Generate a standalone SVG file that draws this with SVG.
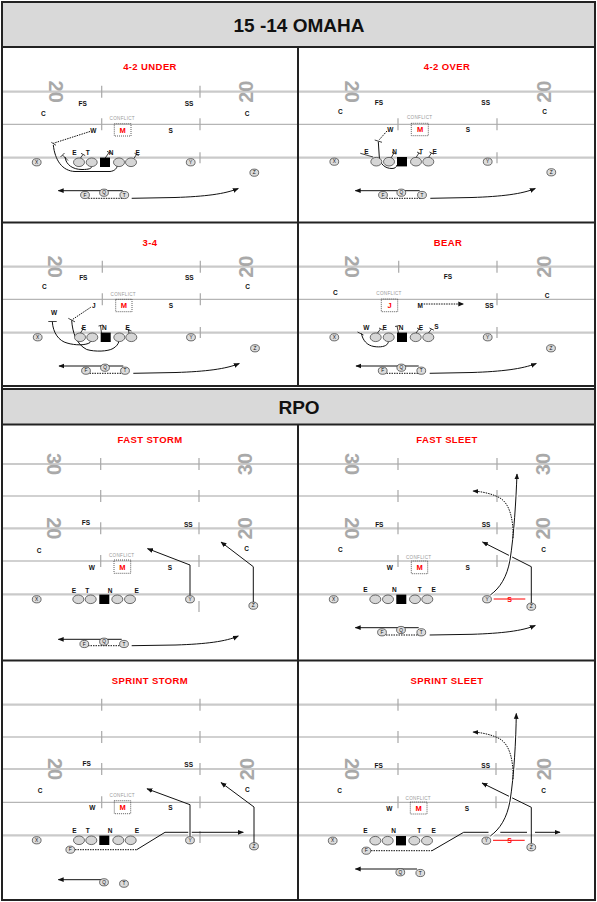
<svg xmlns="http://www.w3.org/2000/svg" width="597" height="902" viewBox="0 0 597 902">
<defs>
<style>
text{font-family:"Liberation Sans",Arial,sans-serif}
.h{font-size:19px;font-weight:bold;fill:#111;text-anchor:middle;dominant-baseline:central}
.tt{font-size:9.5px;font-weight:bold;fill:#f00;text-anchor:middle;dominant-baseline:central;letter-spacing:.4px}
.l{font-size:6.5px;font-weight:bold;fill:#111;text-anchor:middle;dominant-baseline:central}
.cf{font-size:4.6px;fill:#9a9a9a;text-anchor:middle;dominant-baseline:central;letter-spacing:.3px}
.m{font-size:7.5px;font-weight:bold;fill:#f00;text-anchor:middle;dominant-baseline:central}
.c{font-size:4.8px;fill:#111;text-anchor:middle;dominant-baseline:central}
.yd{font-size:20px;font-weight:bold;fill:#a9a9a9;text-anchor:middle;dominant-baseline:central}
.yl{stroke:#cacaca;stroke-width:2.2;fill:none}
.yl2{stroke:#a3a3a3;stroke-width:1;fill:none}
.hs{stroke:#a8a8a8;stroke-width:1.2;fill:none}
.fr{stroke:#222;stroke-width:2;fill:none}
.hd{fill:#d9d9d9;stroke:#222;stroke-width:2}
.ol{fill:#d6d6d6;stroke:#333;stroke-width:.7}
.pc ellipse{fill:#dcdcdc;stroke:#333;stroke-width:.7}
.sq{fill:#000}
.bx{fill:none;stroke:#333;stroke-width:.8;stroke-dasharray:1 1}
.rt{fill:none;stroke:#111;stroke-width:1}
.dt{stroke-dasharray:1.5 1}
.ar{marker-end:url(#ah)}
.bk{fill:none;stroke:#111;stroke-width:.8}
.halo{fill:none;stroke:#fff;stroke-width:3.5}
.rd{stroke:#f00;stroke-width:1;fill:none}
.rs{font-size:7px;font-weight:bold;fill:#f00;text-anchor:middle;dominant-baseline:central}
</style>
<marker id="ah" viewBox="0 0 10 10" refX="9" refY="5" markerWidth="6" markerHeight="6" markerUnits="userSpaceOnUse" orient="auto"><path d="M0,1 L10,5 L0,9 z" fill="#111"/></marker>
</defs>
<rect width="597" height="902" fill="#fff"/>

<!-- headers and frame -->
<g id="frame">
<rect class="hd" x="2" y="2" width="593" height="45"/>
<text class="h" x="299" y="25">15 -14 OMAHA</text>
<rect class="hd" x="2" y="389" width="593" height="35.5"/>
<text class="h" x="299" y="407">RPO</text>
<rect class="fr" x="2" y="2" width="593" height="898"/>
<path class="fr" d="M298,47V386 M2,222.5H595 M2,386H595 M298,424.5V900 M2,660.5H595"/>
</g>

<!-- ===== PANEL 1: 4-2 UNDER ===== -->
<g id="panel-42under">
<text class="tt" x="150" y="66.7">4-2 UNDER</text>
<g class="field">
<path class="yl" d="M3,91.7H297 M3,157.7H297"/><path class="yl2" d="M3,124.3H297"/>
<path class="hs" d="M101.7,85.7v12 M200,85.7v12 M101.7,118.3v12 M200,118.3v12 M200,152.3v11"/>
<text class="yd" transform="translate(55.8,91.7) rotate(90)">20</text>
<text class="yd" transform="translate(245.8,91.7) rotate(-90)">20</text>
</g>
<g id="p1-def">
<text class="l" x="82.7" y="103.3">FS</text><text class="l" x="189" y="103.3">SS</text>
<text class="l" x="43.3" y="113.3">C</text><text class="l" x="247" y="113.3">C</text>
<text class="cf" x="122.3" y="118.3">CONFLICT</text>
<rect class="bx" x="114.3" y="123.7" width="16.7" height="12.3"/><text class="m" x="122.6" y="130">M</text>
<text class="l" x="93.3" y="130">W</text><text class="l" x="170.7" y="130">S</text>
<text class="l" x="74.3" y="152.5">E</text><text class="l" x="87.7" y="152.5">T</text><text class="l" x="111" y="152.5">N</text><text class="l" x="137.7" y="152.5">E</text>
</g>
<g id="p1-routes">
<path class="rt dt" d="M90,131.5 L53.3,143.3"/><path class="bk" d="M51.3,142.3 L56,145.3"/>
<path class="rt" d="M53.3,145 C55,160 62,171 75,171.5 L110,171.5 C115,171 117,168 117.3,165.5"/>
<path class="bk" d="M68,160.5 L62.5,155 M60.5,157 L64.5,153"/>
<path class="rt" d="M65,157 C66,165 73,169.5 82,169.5 C89,169.5 91.5,168.5 91.7,166.5"/>
<path class="bk" d="M80.5,158 L83,154.5 M81,153.3 L85.2,155.6 M105,158.3 L109,152.5 M107,151.3 L111.2,153.6 M134,158.3 L136.5,154.5 M134.5,153.3 L138.7,155.6"/>
<path class="rt ar" d="M122.7,190.7 H58.3"/>
<path class="rt dt" d="M88.3,198.3 H123.3"/>
<path class="rt ar" d="M131.7,198.3 L175,197.5 C205,196.5 225,194 238.3,188.5"/>
</g>
<g id="p1-off">
<ellipse class="ol" cx="79" cy="162.3" rx="5.5" ry="4.3"/><ellipse class="ol" cx="91.7" cy="162.3" rx="5.5" ry="4.3"/>
<rect class="sq" x="100" y="157.6" width="10" height="9.4"/>
<ellipse class="ol" cx="119" cy="162.3" rx="5.5" ry="4.3"/><ellipse class="ol" cx="131" cy="162.3" rx="5.5" ry="4.3"/>
<g id="p1-X" class="pc"><ellipse cx="36.7" cy="162.3" rx="4.4" ry="3.6"/><text class="c" x="36.7" y="162.5">X</text></g>
<g id="p1-Y" class="pc"><ellipse cx="190.7" cy="162.3" rx="4.4" ry="3.6"/><text class="c" x="190.7" y="162.5">Y</text></g>
<g id="p1-Z" class="pc"><ellipse cx="254.3" cy="172.7" rx="4.4" ry="3.6"/><text class="c" x="254.3" y="172.9">Z</text></g>
<g id="p1-F" class="pc"><ellipse cx="85" cy="195" rx="4.4" ry="3.6"/><text class="c" x="85" y="195.2">F</text></g>
<g id="p1-Q" class="pc"><ellipse cx="104" cy="192.7" rx="4.4" ry="3.6"/><text class="c" x="104" y="192.9">Q</text></g>
<g id="p1-T" class="pc"><ellipse cx="124.3" cy="195" rx="4.4" ry="3.6"/><text class="c" x="124.3" y="195.2">T</text></g>
</g>
</g>

<!-- ===== PANEL 2: 4-2 OVER ===== -->
<g id="panel-42over">
<text class="tt" x="447" y="66.7">4-2 OVER</text>
<g class="field">
<path class="yl" d="M299,91.7H594 M299,157.7H594"/><path class="yl2" d="M299,124.3H594"/>
<path class="hs" d="M398,118.3v12 M497,118.3v12 M497,152.3v11"/>
<text class="yd" transform="translate(352,91.7) rotate(90)">20</text>
<text class="yd" transform="translate(543.7,91.7) rotate(-90)">20</text>
</g>
<g id="p2-def">
<text class="l" x="379" y="102.3">FS</text><text class="l" x="485.7" y="102.3">SS</text>
<text class="l" x="340.3" y="111.7">C</text><text class="l" x="544.7" y="111.7">C</text>
<text class="cf" x="419.7" y="117.7">CONFLICT</text>
<rect class="bx" x="411.3" y="123.3" width="17" height="12.4"/><text class="m" x="420" y="129.7">M</text>
<text class="l" x="390.3" y="129.3">W</text><text class="l" x="468" y="129.3">S</text>
<text class="l" x="366.3" y="151.7">E</text><text class="l" x="394.7" y="151.7">N</text><text class="l" x="421" y="151.7">T</text><text class="l" x="434.7" y="151.7">E</text>
</g>
<g id="p2-routes">
<path class="rt dt" d="M387,131 L379,140"/><path class="bk" d="M374.7,140 L382,142.3"/>
<path class="rt" d="M378.3,141.7 L379.3,157 C380,164 385,168.5 392,168.5 C395,168.5 396.5,167 397,165"/>
<path class="bk" d="M360.3,153.3 L373,157 M391,158 L394,153 M392,152 L396.2,154.2 M416,157.5 L419,153 M417,152 L421.2,154.2 M428.5,157.5 L431.5,153 M429.5,152 L433.7,154.2"/>
<path class="rt ar" d="M419.7,190.7 H355.3"/>
<path class="rt dt" d="M386.5,198.3 H421"/>
<path class="rt ar" d="M430.3,198.3 L472,197.5 C502,196.5 522,194 535.3,188.5"/>
</g>
<g id="p2-off">
<ellipse class="ol" cx="376.3" cy="161.7" rx="5.5" ry="4.3"/><ellipse class="ol" cx="389" cy="161.7" rx="5.5" ry="4.3"/>
<rect class="sq" x="397" y="157" width="10" height="9.4"/>
<ellipse class="ol" cx="416" cy="161.7" rx="5.5" ry="4.3"/><ellipse class="ol" cx="428.3" cy="161.7" rx="5.5" ry="4.3"/>
<g id="p2-X" class="pc"><ellipse cx="334.3" cy="161.7" rx="4.4" ry="3.6"/><text class="c" x="334.3" y="161.9">X</text></g>
<g id="p2-Y" class="pc"><ellipse cx="487.7" cy="161.7" rx="4.4" ry="3.6"/><text class="c" x="487.7" y="161.9">Y</text></g>
<g id="p2-Z" class="pc"><ellipse cx="551.3" cy="172.3" rx="4.4" ry="3.6"/><text class="c" x="551.3" y="172.5">Z</text></g>
<g id="p2-F" class="pc"><ellipse cx="383" cy="195" rx="4.4" ry="3.6"/><text class="c" x="383" y="195.2">F</text></g>
<g id="p2-Q" class="pc"><ellipse cx="401.3" cy="192.7" rx="4.4" ry="3.6"/><text class="c" x="401.3" y="192.9">Q</text></g>
<g id="p2-T" class="pc"><ellipse cx="422" cy="195" rx="4.4" ry="3.6"/><text class="c" x="422" y="195.2">T</text></g>
</g>
</g>

<!-- ===== PANEL 3: 3-4 ===== -->
<g id="panel-34">
<text class="tt" x="150" y="242.7">3-4</text>
<g class="field">
<path class="yl" d="M3,266.7H297 M3,332.7H297"/><path class="yl2" d="M3,299.3H297"/>
<path class="hs" d="M102.3,260.7v12 M200.3,260.7v12 M102.3,293.3v12 M200.3,293.3v12 M200.3,327v11"/>
<text class="yd" transform="translate(55,266.7) rotate(90)">20</text>
<text class="yd" transform="translate(246,266.7) rotate(-90)">20</text>
</g>
<g id="p3-def">
<text class="l" x="83.3" y="277.3">FS</text><text class="l" x="189.3" y="277.3">SS</text>
<text class="l" x="44.3" y="286.7">C</text><text class="l" x="247.7" y="286.7">C</text>
<text class="cf" x="123.3" y="294">CONFLICT</text>
<rect class="bx" x="115.7" y="299.3" width="16.3" height="12.4"/><text class="m" x="123.8" y="305.7">M</text>
<text class="l" x="93.7" y="305">J</text><text class="l" x="171" y="305">S</text>
<text class="l" x="54" y="312.7">W</text>
<text class="l" x="84" y="327.5">E</text><text class="l" x="104.3" y="327.3">N</text><text class="l" x="127.7" y="327.5">E</text>
</g>
<g id="p3-routes">
<path class="bk" d="M48.3,321.5 H56.7"/>
<path class="rt" d="M52.3,321.7 C53,333 59,341 67,343 C75,345.5 86,345.5 90,342.5 C91.3,341.3 91.8,340 92,339"/>
<path class="rt dt" d="M90.7,307.3 L71.7,320"/><path class="bk" d="M68.3,318.3 L75,321.9"/>
<path class="rt" d="M71.7,320.5 C72.5,332 76,344 86.7,349.5 C95,352 108,351.5 113,348.5 C116.5,346.5 118.3,344 118.8,341.5"/>
<path class="bk" d="M80.5,333 L83,329 M81,328 L85.4,330.2 M101.5,333 L100.5,325.5 M98.5,326 L103,325 M129,333.5 L128.5,330 M125.5,329 L131.5,331"/>
<path class="rt ar" d="M123.3,366 H59"/>
<path class="rt dt" d="M89.5,373.3 H124"/>
<path class="rt ar" d="M133.3,373.3 L176,372.5 C206,371.5 226,369 239.3,363.5"/>
</g>
<g id="p3-off">
<ellipse class="ol" cx="80" cy="337.3" rx="5.5" ry="4.3"/><ellipse class="ol" cx="92.3" cy="337.3" rx="5.5" ry="4.3"/>
<rect class="sq" x="100.7" y="332.6" width="10" height="9.4"/>
<ellipse class="ol" cx="119.3" cy="337.3" rx="5.5" ry="4.3"/><ellipse class="ol" cx="131.3" cy="337.3" rx="5.5" ry="4.3"/>
<g id="p3-X" class="pc"><ellipse cx="37.7" cy="337.3" rx="4.4" ry="3.6"/><text class="c" x="37.7" y="337.5">X</text></g>
<g id="p3-Y" class="pc"><ellipse cx="191" cy="337.3" rx="4.4" ry="3.6"/><text class="c" x="191" y="337.5">Y</text></g>
<g id="p3-Z" class="pc"><ellipse cx="255" cy="348.3" rx="4.4" ry="3.6"/><text class="c" x="255" y="348.5">Z</text></g>
<g id="p3-F" class="pc"><ellipse cx="86" cy="370.7" rx="4.4" ry="3.6"/><text class="c" x="86" y="370.9">F</text></g>
<g id="p3-Q" class="pc"><ellipse cx="105" cy="367.7" rx="4.4" ry="3.6"/><text class="c" x="105" y="367.9">Q</text></g>
<g id="p3-T" class="pc"><ellipse cx="125" cy="370.7" rx="4.4" ry="3.6"/><text class="c" x="125" y="370.9">T</text></g>
</g>
</g>

<!-- ===== PANEL 4: BEAR ===== -->
<g id="panel-bear">
<text class="tt" x="448" y="242.7">BEAR</text>
<g class="field">
<path class="yl" d="M299,266.7H594 M299,332.7H594"/><path class="yl2" d="M299,299.3H594"/>
<path class="hs" d="M398.7,260.7v12 M497,260.7v12 M497,293.3v12 M497,327v11"/>
<text class="yd" transform="translate(352,266.7) rotate(90)">20</text>
<text class="yd" transform="translate(543.7,266.7) rotate(-90)">20</text>
</g>
<g id="p4-def">
<text class="l" x="448" y="276.7">FS</text>
<text class="l" x="335.3" y="292.7">C</text><text class="l" x="547" y="295.7">C</text>
<text class="cf" x="389" y="293.3">CONFLICT</text>
<rect class="bx" x="381.3" y="299" width="16.4" height="12.7"/><text class="m" x="389.5" y="305.3">J</text>
<text class="l" x="420.3" y="305">M</text><text class="l" x="489.3" y="305">SS</text>
<text class="l" x="366.3" y="327.5">W</text><text class="l" x="384.7" y="327.5">E</text><text class="l" x="401" y="327.5">N</text><text class="l" x="421" y="327.5">E</text><text class="l" x="436.3" y="326.7">S</text>
</g>
<g id="p4-routes">
<path class="rt dt ar" d="M423.7,304 H463.7"/>
<path class="bk" d="M357.5,332 L363.5,335"/>
<path class="rt" d="M361.5,333.5 C362.5,340 367,345.5 374,346.5 C380,347.5 386,346.5 387.5,343.8 C388.2,342.6 388.5,342 388.6,341.5"/>
<path class="bk" d="M377.5,333 L380.5,329 M379,328 L383.4,330.2 M398.5,333 L397,326 M395,326.5 L399.5,325.5 M416,333 L419,329 M417,328 L421.4,330.2 M428.5,333 L431.5,329 M429.5,328 L433.9,330.2"/>
<path class="rt ar" d="M418.7,366 H356"/>
<path class="rt dt" d="M386.5,373.3 H420"/>
<path class="rt ar" d="M429.7,373.3 L472,372.5 C502,371.5 522,369 536.3,363.5"/>
</g>
<g id="p4-off">
<ellipse class="ol" cx="375.7" cy="337.3" rx="5.5" ry="4.3"/><ellipse class="ol" cx="388.7" cy="337.3" rx="5.5" ry="4.3"/>
<rect class="sq" x="397" y="332.6" width="10" height="9.4"/>
<ellipse class="ol" cx="415.7" cy="337.3" rx="5.5" ry="4.3"/><ellipse class="ol" cx="428.3" cy="337.3" rx="5.5" ry="4.3"/>
<g id="p4-X" class="pc"><ellipse cx="334.3" cy="337.3" rx="4.4" ry="3.6"/><text class="c" x="334.3" y="337.5">X</text></g>
<g id="p4-Y" class="pc"><ellipse cx="487.7" cy="337.3" rx="4.4" ry="3.6"/><text class="c" x="487.7" y="337.5">Y</text></g>
<g id="p4-Z" class="pc"><ellipse cx="551" cy="348.3" rx="4.4" ry="3.6"/><text class="c" x="551" y="348.5">Z</text></g>
<g id="p4-F" class="pc"><ellipse cx="382.7" cy="370.7" rx="4.4" ry="3.6"/><text class="c" x="382.7" y="370.9">F</text></g>
<g id="p4-Q" class="pc"><ellipse cx="401.3" cy="367.7" rx="4.4" ry="3.6"/><text class="c" x="401.3" y="367.9">Q</text></g>
<g id="p4-T" class="pc"><ellipse cx="421.3" cy="370.7" rx="4.4" ry="3.6"/><text class="c" x="421.3" y="370.9">T</text></g>
</g>
</g>

<!-- ===== PANEL 5: FAST STORM ===== -->
<g id="panel-faststorm">
<text class="tt" x="150" y="439.7">FAST STORM</text>
<g class="field">
<path class="yl" d="M3,464H297 M3,528.3H297 M3,594.3H297"/><path class="yl2" d="M3,496H297 M3,561H297"/>
<path class="hs" d="M100.7,458v12 M199,458v12 M100.7,490v12 M199,490v12 M100.7,522.3v12 M199,522.3v12 M100.7,555v12 M199,555v12 M199,601v11"/>
<text class="yd" transform="translate(54,464) rotate(90)">30</text>
<text class="yd" transform="translate(245,464) rotate(-90)">30</text>
<text class="yd" transform="translate(54,528.3) rotate(90)">20</text>
<text class="yd" transform="translate(245,528.3) rotate(-90)">20</text>
</g>
<g id="p5-def">
<text class="l" x="86" y="522.7">FS</text><text class="l" x="188.3" y="524">SS</text>
<text class="l" x="39" y="550">C</text><text class="l" x="246.7" y="548.3">C</text>
<text class="cf" x="121.7" y="555.7">CONFLICT</text>
<rect class="bx" x="114" y="560" width="16.7" height="13.3"/><text class="m" x="122.3" y="567">M</text>
<text class="l" x="91.7" y="567.3">W</text><text class="l" x="170" y="567.3">S</text>
<text class="l" x="74" y="590">E</text><text class="l" x="87.3" y="590">T</text><text class="l" x="110" y="590">N</text><text class="l" x="136.7" y="590">E</text>
</g>
<g id="p5-routes">
<path class="rt ar" d="M190,595.5 L190,565 L147.5,548.6"/>
<path class="rt ar" d="M253.3,602 L253.3,566.7 L221,542"/>
<path class="rt ar" d="M121.7,639.3 H58.3"/>
<path class="rt dt" d="M88,645.7 H121"/>
<path class="rt ar" d="M131.7,645.7 L176,645 C206,644 226,641.5 238.3,636"/>
</g>
<g id="p5-off">
<ellipse class="ol" cx="78.3" cy="599.3" rx="5.5" ry="4.3"/><ellipse class="ol" cx="90.7" cy="599.3" rx="5.5" ry="4.3"/>
<rect class="sq" x="99.3" y="594.6" width="10" height="9.4"/>
<ellipse class="ol" cx="117.3" cy="599.3" rx="5.5" ry="4.3"/><ellipse class="ol" cx="130" cy="599.3" rx="5.5" ry="4.3"/>
<g id="p5-X" class="pc"><ellipse cx="36.7" cy="599.3" rx="4.4" ry="3.6"/><text class="c" x="36.7" y="599.5">X</text></g>
<g id="p5-Y" class="pc"><ellipse cx="190" cy="599.3" rx="4.4" ry="3.6"/><text class="c" x="190" y="599.5">Y</text></g>
<g id="p5-Z" class="pc"><ellipse cx="253.3" cy="605.7" rx="4.4" ry="3.6"/><text class="c" x="253.3" y="605.9">Z</text></g>
<g id="p5-F" class="pc"><ellipse cx="84.3" cy="644" rx="4.4" ry="3.6"/><text class="c" x="84.3" y="644.2">F</text></g>
<g id="p5-Q" class="pc"><ellipse cx="104" cy="641.7" rx="4.4" ry="3.6"/><text class="c" x="104" y="641.9">Q</text></g>
<g id="p5-T" class="pc"><ellipse cx="124" cy="644" rx="4.4" ry="3.6"/><text class="c" x="124" y="644.2">T</text></g>
</g>
</g>

<!-- ===== PANEL 6: FAST SLEET ===== -->
<g id="panel-fastsleet">
<text class="tt" x="447" y="439.7">FAST SLEET</text>
<g class="field">
<path class="yl" d="M299,464H594 M299,528.3H594 M299,594.3H594"/><path class="yl2" d="M299,496H594 M299,561H594"/>
<path class="hs" d="M398,458v12 M497,458v12 M398,490v12 M497,490v12 M398,522.3v12 M497,522.3v12 M398,555v12 M497,555v12"/>
<text class="yd" transform="translate(352,464) rotate(90)">30</text>
<text class="yd" transform="translate(542.7,464) rotate(-90)">30</text>
<text class="yd" transform="translate(352,528.3) rotate(90)">20</text>
<text class="yd" transform="translate(542.7,528.3) rotate(-90)">20</text>
</g>
<g id="p6-def">
<text class="l" x="379.3" y="524">FS</text><text class="l" x="486" y="524">SS</text>
<text class="l" x="340.3" y="549.7">C</text><text class="l" x="543.7" y="549.7">C</text>
<text class="cf" x="418.7" y="557">CONFLICT</text>
<rect class="bx" x="411.3" y="561" width="16.4" height="12.7"/><text class="m" x="419.6" y="567.5">M</text>
<text class="l" x="389.7" y="567.7">W</text><text class="l" x="467.7" y="567.7">S</text>
<text class="l" x="365.3" y="589.3">E</text><text class="l" x="394.3" y="589.3">N</text><text class="l" x="419.7" y="589.3">T</text><text class="l" x="433.7" y="589.3">E</text>
</g>
<g id="p6-routes">
<path class="rt ar" d="M531.3,603 L531.3,566.7 L482.5,542"/>
<path class="halo" d="M490.3,595 C500,588 507,577 510,560 C514,535 516,500 517,480"/>
<path class="rt ar" d="M490.3,595 C500,588 507,577 510,560 C514,535 516,500 517,474"/>
<path class="rt dt ar" d="M513,538 C513.5,520 510,504 500,498 C493,494 482,491.5 473,491"/>
<path class="rd" d="M493.7,599 H525.3"/><text class="rs" x="509.7" y="599">S</text>
<path class="rt ar" d="M418.7,627.7 H355.3"/>
<path class="rt dt" d="M386,635 H419"/>
<path class="rt ar" d="M429.7,635 L472,634.3 C502,633.3 522,631 535.3,625.5"/>
</g>
<g id="p6-off">
<ellipse class="ol" cx="375.3" cy="599.3" rx="5.5" ry="4.3"/><ellipse class="ol" cx="388" cy="599.3" rx="5.5" ry="4.3"/>
<rect class="sq" x="396.3" y="594.6" width="10" height="9.4"/>
<ellipse class="ol" cx="415" cy="599.3" rx="5.5" ry="4.3"/><ellipse class="ol" cx="427.3" cy="599.3" rx="5.5" ry="4.3"/>
<g id="p6-X" class="pc"><ellipse cx="333.7" cy="599.3" rx="4.4" ry="3.6"/><text class="c" x="333.7" y="599.5">X</text></g>
<g id="p6-Y" class="pc"><ellipse cx="487" cy="599.3" rx="4.4" ry="3.6"/><text class="c" x="487" y="599.5">Y</text></g>
<g id="p6-Z" class="pc"><ellipse cx="531.3" cy="606.7" rx="4.4" ry="3.6"/><text class="c" x="531.3" y="606.9">Z</text></g>
<g id="p6-F" class="pc"><ellipse cx="382" cy="632.3" rx="4.4" ry="3.6"/><text class="c" x="382" y="632.5">F</text></g>
<g id="p6-Q" class="pc"><ellipse cx="401" cy="630" rx="4.4" ry="3.6"/><text class="c" x="401" y="630.2">Q</text></g>
<g id="p6-T" class="pc"><ellipse cx="421.3" cy="632.3" rx="4.4" ry="3.6"/><text class="c" x="421.3" y="632.5">T</text></g>
</g>
</g>

<!-- ===== PANEL 7: SPRINT STORM ===== -->
<g id="panel-sprintstorm">
<text class="tt" x="150" y="680.7">SPRINT STORM</text>
<g class="field">
<path class="yl" d="M3,704.7H297 M3,769H297 M3,835.3H297"/><path class="yl2" d="M3,737H297 M3,802.3H297"/>
<path class="hs" d="M101.7,698.7v12 M200,698.7v12 M101.7,731v12 M200,731v12 M101.7,763v12 M200,763v12 M101.7,796.3v12 M200,796.3v12 M200,831v12"/>
<text class="yd" transform="translate(55,769) rotate(90)">20</text>
<text class="yd" transform="translate(246.7,769) rotate(-90)">20</text>
</g>
<g id="p7-def">
<text class="l" x="86.7" y="763.3">FS</text><text class="l" x="188.7" y="764.7">SS</text>
<text class="l" x="40" y="790.3">C</text><text class="l" x="247.3" y="789.3">C</text>
<text class="cf" x="122.3" y="795.7">CONFLICT</text>
<rect class="bx" x="114.3" y="800.7" width="16.4" height="13"/><text class="m" x="122.5" y="807.4">M</text>
<text class="l" x="92.3" y="807.7">W</text><text class="l" x="170.3" y="807.7">S</text>
<text class="l" x="74.3" y="830.7">E</text><text class="l" x="87.7" y="830.7">T</text><text class="l" x="110" y="830.7">N</text><text class="l" x="137" y="830.7">E</text>
</g>
<g id="p7-routes">
<path class="rt dt" d="M75,849.7 H136.7"/>
<path class="rt ar" d="M136.7,849.7 L165,832.3 L243.3,832.3"/>
<path class="halo" d="M190,836.5 L190,804.7"/>
<path class="rt ar" d="M190,836.5 L190,804.7 L147,788.8"/>
<path class="rt ar" d="M254,843 L254,807 L221,782.5"/>
<path class="rt ar" d="M101.7,879.7 H58.3"/>
</g>
<g id="p7-off">
<ellipse class="ol" cx="79" cy="840.3" rx="5.5" ry="4.3"/><ellipse class="ol" cx="91.3" cy="840.3" rx="5.5" ry="4.3"/>
<rect class="sq" x="99.3" y="835.6" width="10" height="9.4"/>
<ellipse class="ol" cx="118.3" cy="840.3" rx="5.5" ry="4.3"/><ellipse class="ol" cx="130.7" cy="840.3" rx="5.5" ry="4.3"/>
<g id="p7-X" class="pc"><ellipse cx="36.7" cy="840.3" rx="4.4" ry="3.6"/><text class="c" x="36.7" y="840.5">X</text></g>
<g id="p7-Y" class="pc"><ellipse cx="190" cy="840.3" rx="4.4" ry="3.6"/><text class="c" x="190" y="840.5">Y</text></g>
<g id="p7-Z" class="pc"><ellipse cx="254" cy="846.3" rx="4.4" ry="3.6"/><text class="c" x="254" y="846.5">Z</text></g>
<g id="p7-F" class="pc"><ellipse cx="70.3" cy="849.7" rx="4.4" ry="3.6"/><text class="c" x="70.3" y="849.9">F</text></g>
<g id="p7-Q" class="pc"><ellipse cx="104" cy="882.3" rx="4.4" ry="3.6"/><text class="c" x="104" y="882.5">Q</text></g>
<g id="p7-T" class="pc"><ellipse cx="124" cy="883.7" rx="4.4" ry="3.6"/><text class="c" x="124" y="883.9">T</text></g>
</g>
</g>

<!-- ===== PANEL 8: SPRINT SLEET ===== -->
<g id="panel-sprintsleet">
<text class="tt" x="447" y="680.7">SPRINT SLEET</text>
<g class="field">
<path class="yl" d="M299,704.7H594 M299,769H594 M299,835.3H594"/><path class="yl2" d="M299,737H594 M299,802.3H594"/>
<path class="hs" d="M398,698.7v12 M496,698.7v12 M398,731v12 M496,731v12 M398,763v12 M496,763v12 M398,796.3v12 M496,796.3v12"/>
<text class="yd" transform="translate(352,769) rotate(90)">20</text>
<text class="yd" transform="translate(544.3,769) rotate(-90)">20</text>
</g>
<g id="p8-def">
<text class="l" x="378.7" y="765.3">FS</text><text class="l" x="485.7" y="765.3">SS</text>
<text class="l" x="339.7" y="790.7">C</text><text class="l" x="543.7" y="790.7">C</text>
<text class="cf" x="418.3" y="798.7">CONFLICT</text>
<rect class="bx" x="410.3" y="802" width="16.7" height="12"/><text class="m" x="418.7" y="808">M</text>
<text class="l" x="389.3" y="808.3">W</text><text class="l" x="467" y="808.3">S</text>
<text class="l" x="365.3" y="830.7">E</text><text class="l" x="393.7" y="830.7">N</text><text class="l" x="419.3" y="830.7">T</text><text class="l" x="433.7" y="830.7">E</text>
</g>
<g id="p8-routes">
<path class="rt dt" d="M371,850.7 H432"/>
<path class="rt ar" d="M432,850.7 L463.7,832.3 H488.5 M500.3,832.3 H527 M535,832.3 H560"/>
<path class="rt ar" d="M531.3,843.5 L531.3,807.3 L482,783"/>
<path class="halo" d="M490.3,836 C500,829 507,818 510,801 C514,776 516,740 516.3,720"/>
<path class="rt ar" d="M490.3,836 C500,829 507,818 510,801 C514,776 516,740 516.3,713.5"/>
<path class="rt dt ar" d="M513,779 C513.5,761 510,745 500,739 C493,735 482,732.5 473,732"/>
<path class="rd" d="M493,840.3 H524.7"/><text class="rs" x="509.7" y="840.5">S</text>
<path class="rt ar" d="M417,869 H355.3"/>
</g>
<g id="p8-off">
<ellipse class="ol" cx="375.3" cy="840.7" rx="5.5" ry="4.3"/><ellipse class="ol" cx="387.7" cy="840.7" rx="5.5" ry="4.3"/>
<rect class="sq" x="396" y="836" width="10" height="9.4"/>
<ellipse class="ol" cx="414.3" cy="840.7" rx="5.5" ry="4.3"/><ellipse class="ol" cx="427" cy="840.7" rx="5.5" ry="4.3"/>
<g id="p8-X" class="pc"><ellipse cx="332.7" cy="840.7" rx="4.4" ry="3.6"/><text class="c" x="332.7" y="840.9">X</text></g>
<g id="p8-Y" class="pc"><ellipse cx="486.3" cy="840.7" rx="4.4" ry="3.6"/><text class="c" x="486.3" y="840.9">Y</text></g>
<g id="p8-Z" class="pc"><ellipse cx="531.3" cy="847.3" rx="4.4" ry="3.6"/><text class="c" x="531.3" y="847.5">Z</text></g>
<g id="p8-F" class="pc"><ellipse cx="366.3" cy="850.7" rx="4.4" ry="3.6"/><text class="c" x="366.3" y="850.9">F</text></g>
<g id="p8-Q" class="pc"><ellipse cx="400.3" cy="872.3" rx="4.4" ry="3.6"/><text class="c" x="400.3" y="872.5">Q</text></g>
<g id="p8-T" class="pc"><ellipse cx="420.3" cy="873" rx="4.4" ry="3.6"/><text class="c" x="420.3" y="873.2">T</text></g>
</g>
</g>
</svg>
